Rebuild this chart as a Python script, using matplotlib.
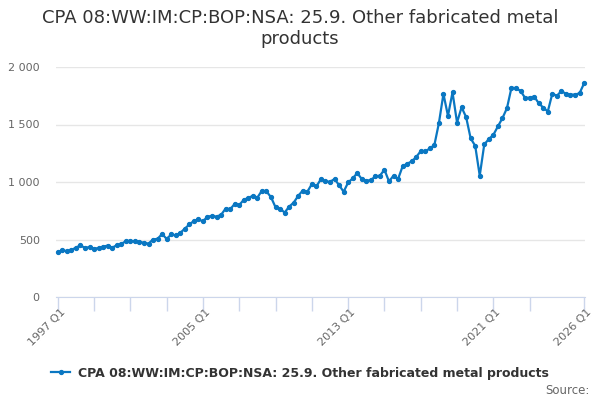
import numpy as np
import matplotlib
matplotlib.use("Agg")
import matplotlib.pyplot as plt

# ==============================
# DATA (quarterly, 1997 Q1 .. 2026 Q1)
# ==============================
series_name = "CPA 08:WW:IM:CP:BOP:NSA: 25.9. Other fabricated metal products"
start_year = 1997

values = [
    388, 409, 397, 409, 429, 450, 426, 435, 420, 426,
    438, 447, 429, 450, 462, 485, 488, 485, 482, 470,
    465, 500, 506, 548, 505, 544, 535, 558, 594, 631,
    661, 675, 658, 699, 705, 699, 715, 769, 763, 810,
    800, 845, 862, 880, 865, 925, 918, 868, 780, 769,
    734, 786, 821, 880, 926, 915, 982, 961, 1026, 1005,
    1002, 1026, 973, 915, 996, 1031, 1078, 1026, 1011, 1017,
    1049, 1055, 1107, 1005, 1055, 1026, 1136, 1159, 1179, 1217,
    1269, 1266, 1292, 1321, 1512, 1766, 1575, 1780, 1517, 1650,
    1564, 1379, 1315, 1055, 1327, 1373, 1410, 1483, 1555, 1642,
    1821, 1815, 1792, 1731, 1734, 1743, 1685, 1647, 1613, 1769,
    1749, 1792, 1766, 1760, 1760, 1772, 1858,
]

quarters = [f"{start_year + i // 4} Q{i % 4 + 1}" for i in range(len(values))]
y_ticks = [0, 500, 1000, 1500, 2000]
y_tick_labels = ["0", "500", "1 000", "1 500", "2 000"]
label_quarters = ["1997 Q1", "2005 Q1", "2013 Q1", "2021 Q1", "2026 Q1"]

# ==============================
# PLOT
# ==============================
blue = "#0a77c2"
grey_text = "#666666"

fig = plt.figure(figsize=(6, 4), dpi=100)
ax = fig.add_axes([0.094, 0.2575, 0.881, 0.575])

x = np.arange(len(values))
ax.plot(x, values, color=blue, linewidth=1.6, marker="o", markersize=2.8,
        clip_on=False, zorder=3)

ax.set_xlim(-0.3, len(values) - 1 + 0.2)
ax.set_ylim(0, 2000)

# y axis
ax.set_yticks(y_ticks)
ax.set_yticklabels(y_tick_labels, color=grey_text, fontsize=8)
ax.tick_params(axis="y", length=0, pad=12)
ax.grid(axis="y", color="#e6e6e6", linewidth=1)
ax.set_axisbelow(True)

# x axis: ticks every 2 years, plus the last quarter
tick_pos = list(range(0, len(values) - 8, 8)) + [len(values) - 1]
ax.set_xticks(tick_pos)
ax.set_xticklabels([""] * len(tick_pos))
ax.tick_params(axis="x", length=10, color="#ccd6eb", width=1)

for q in label_quarters:
    i = quarters.index(q)
    ax.text(i + 0.5, -85, q, rotation=45, ha="right", va="top",
            rotation_mode="anchor", color=grey_text, fontsize=8)

for side in ["top", "right", "left"]:
    ax.spines[side].set_visible(False)
ax.spines["bottom"].set_color("#ccd6eb")

# title
fig.text(0.5, 0.978, "CPA 08:WW:IM:CP:BOP:NSA: 25.9. Other fabricated metal\nproducts",
         ha="center", va="top", fontsize=13, color="#333333", linespacing=1.2)

# legend
leg = fig.legend([ax.lines[0]], [series_name], loc="center",
                 bbox_to_anchor=(0.5, 0.067), frameon=False,
                 prop={"size": 9, "weight": "bold"}, handlelength=1.5,
                 handletextpad=0.6)
for t in leg.get_texts():
    t.set_color("#333333")

fig.text(0.982, 0.025, "Source:", ha="right", va="center",
         fontsize=8.5, color=grey_text)

plt.savefig("out.png", dpi=100)
